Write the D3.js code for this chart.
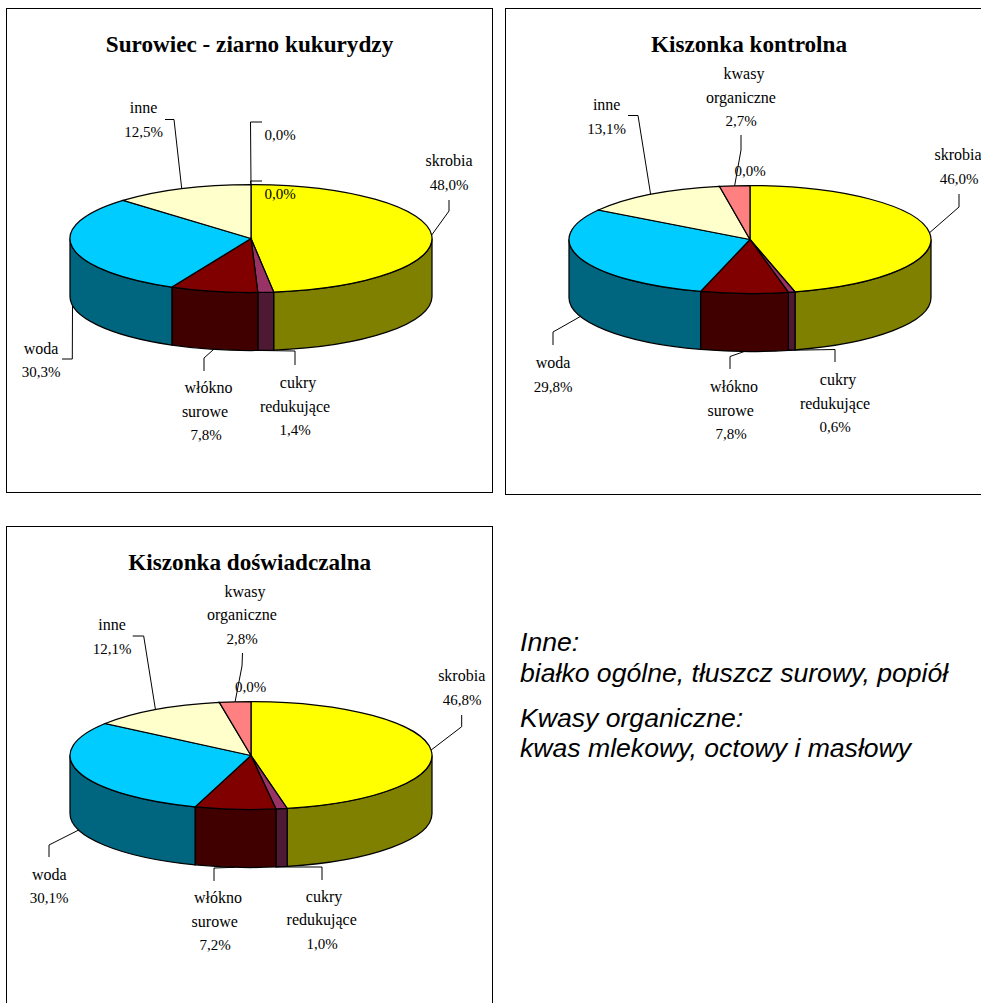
<!DOCTYPE html>
<html>
<head>
<meta charset="utf-8">
<script src="https://cdn.jsdelivr.net/npm/d3@7/dist/d3.min.js"></script>
<style>
  html, body { margin: 0; padding: 0; background: #fff; overflow: hidden; }
  svg { display: block; }
  .lbl { font-family: "Liberation Serif", serif; font-size: 16px; fill: #000; text-anchor: middle; }
  .pct { font-size: 15px; }
  .ttl { font-family: "Liberation Serif", serif; font-size: 23.2px; font-weight: bold; fill: #000; text-anchor: middle; }
  .note { font-family: "Liberation Sans", sans-serif; font-size: 26.6px; font-style: italic; fill: #000; }
</style>
</head>
<body>
<div id="chart"></div>
<script>
// Composition of the raw material and the two silages (percent of dry matter)
const categories = ["skrobia", "cukry redukujące", "włókno surowe", "woda", "inne", "kwasy organiczne"];
const surowiec = [48.0, 1.4, 7.8, 30.3, 12.5, 0.0];
const kontrolna = [46.0, 0.6, 7.8, 29.8, 13.1, 2.7];
const doswiadczalna = [46.8, 1.0, 7.2, 30.1, 12.1, 2.8];

const topColors = ["#ffff00", "#993366", "#800000", "#00ccff", "#ffffcc", "#ff8080"];
const sideColors = ["#808000", "#4d1933", "#400000", "#006680", "#808066", "#804040"];

const notes = [
  ["Inne:", 520, 651],
  ["białko ogólne, tłuszcz surowy, popiół", 520, 682],
  ["Kwasy organiczne:", 520, 727],
  ["kwas mlekowy, octowy i masłowy", 520, 757]
];

// Layout of one panel: frame, pie centre, label lines and leader elbows per category.
const panels = [
  {
    title: "Surowiec - ziarno kukurydzy", values: surowiec,
    frame: [6, 8, 486, 484], cx: 251, cy: 238.5, titleAt: [249.5, 52],
    labels: [
      { cat: 0, lines: [["skrobia", 449, 166], ["48,0%", 449, 190]], elbows: [[449, 211], [449, 200]] },
      { cat: 1, lines: [["cukry", 298, 388], ["redukujące", 295, 412], ["1,4%", 295, 435]], elbows: [[295, 351], [295, 365]], at: "start" },
      { cat: 2, lines: [["włókno", 208.5, 393], ["surowe", 205, 417], ["7,8%", 206, 440]], elbows: [[204, 358], [204, 371]] },
      { cat: 3, lines: [["woda", 41, 354], ["30,3%", 41, 377]], elbows: [[72.3, 359], [62, 359]] },
      { cat: 4, lines: [["inne", 143.5, 113], ["12,5%", 143.5, 137]], elbows: [[174, 119.5], [165, 119.5]] },
      { cat: 5, lines: [["0,0%", 280, 199]], elbows: [[250.5, 181], [262, 181]] },
      { cat: 5, lines: [["0,0%", 280, 140]], elbows: [[250.5, 122], [262, 122]] }
    ]
  },
  {
    title: "Kiszonka kontrolna", values: kontrolna,
    frame: [505, 8, 520, 486], cx: 750, cy: 239.5, titleAt: [749, 52],
    labels: [
      { cat: 0, lines: [["skrobia", 958, 160], ["46,0%", 959, 184]], elbows: [[959, 207], [959, 194]] },
      { cat: 1, lines: [["cukry", 838, 385], ["redukujące", 835, 409], ["0,6%", 835, 432]], elbows: [[835, 349.5], [835, 362]], at: "start" },
      { cat: 2, lines: [["włókno", 734, 392], ["surowe", 730.7, 416], ["7,8%", 731, 439]], elbows: [[730, 356.5], [730, 369]] },
      { cat: 3, lines: [["woda", 553, 368], ["29,8%", 553, 392]], elbows: [[553, 332], [553, 345]] },
      { cat: 4, lines: [["inne", 606.7, 110], ["13,1%", 606.7, 134]], elbows: [[638, 115.5], [628, 115.5]] },
      { cat: 5, lines: [["kwasy", 744, 79], ["organiczne", 741, 103], ["2,7%", 741, 126]], elbows: [[741, 150], [741, 135]] }
    ],
    zeroAt: [750, 176]
  },
  {
    title: "Kiszonka doświadczalna", values: doswiadczalna,
    frame: [6, 526, 486, 520], cx: 251, cy: 755.5, titleAt: [249.7, 570],
    labels: [
      { cat: 0, lines: [["skrobia", 461.7, 681], ["46,8%", 462, 705]], elbows: [[461.7, 726.7], [461.7, 715]] },
      { cat: 1, lines: [["cukry", 324, 902], ["redukujące", 321.7, 925], ["1,0%", 322, 949]], elbows: [[322, 867], [322, 880]], at: "start" },
      { cat: 2, lines: [["włókno", 218, 902.7], ["surowe", 214.7, 926.7], ["7,2%", 215, 950]], elbows: [[214, 868], [214, 881]] },
      { cat: 3, lines: [["woda", 49.3, 880], ["30,1%", 49, 903]], elbows: [[49, 845], [49, 857]] },
      { cat: 4, lines: [["inne", 112, 630], ["12,1%", 112, 654]], elbows: [[143.7, 636], [132.7, 636]] },
      { cat: 5, lines: [["kwasy", 245, 597], ["organiczne", 242, 620], ["2,8%", 242, 644]], elbows: [[242, 666], [242.5, 653]] }
    ],
    zeroAt: [250.7, 692]
  }
];

const RX = 181, RY = 54, DEPTH = 58, LINE = 1.25;
const FRONT_START = Math.PI / 2, FRONT_END = Math.PI * 3 / 2;

const svg = d3.select("#chart").append("svg").attr("width", 981).attr("height", 1003);
const pie = d3.pie().sort(null).startAngle(0).endAngle(2 * Math.PI);
const leaderLine = d3.line();

panels.forEach(panel => {
  const g = svg.append("g");
  const [fx, fy, fw, fh] = panel.frame;
  g.append("rect").attr("x", fx + 0.5).attr("y", fy + 0.5).attr("width", fw).attr("height", fh)
    .attr("fill", "#fff").attr("stroke", "#000").attr("stroke-width", 1);

  const sx = d3.scaleLinear().domain([-1, 1]).range([panel.cx - RX, panel.cx + RX]);
  const sy = d3.scaleLinear().domain([-1, 1]).range([panel.cy - RY, panel.cy + RY]);
  // Angles run clockwise from twelve o'clock
  const px = a => sx(Math.sin(a));
  const py = a => sy(-Math.cos(a));

  const arcs = pie(panel.values);

  // Visible rim: only the part of each slice facing the viewer
  const rim = g.append("g");
  arcs.forEach((d, i) => {
    const a0 = Math.max(d.startAngle, FRONT_START);
    const a1 = Math.min(d.endAngle, FRONT_END);
    if (a1 <= a0) return;
    const large = a1 - a0 > Math.PI ? 1 : 0;
    rim.append("path")
      .attr("d", `M${px(a0)},${py(a0)}` +
        `A${RX},${RY} 0 ${large} 1 ${px(a1)},${py(a1)}` +
        `L${px(a1)},${py(a1) + DEPTH}` +
        `A${RX},${RY} 0 ${large} 0 ${px(a0)},${py(a0) + DEPTH}Z`)
      .attr("fill", sideColors[i]).attr("stroke", "#000").attr("stroke-width", LINE);
  });

  // Top face
  const top = g.append("g");
  arcs.forEach((d, i) => {
    if (d.endAngle - d.startAngle <= 0) return;
    const large = d.endAngle - d.startAngle > Math.PI ? 1 : 0;
    top.append("path")
      .attr("d", `M${panel.cx},${panel.cy}L${px(d.startAngle)},${py(d.startAngle)}` +
        `A${RX},${RY} 0 ${large} 1 ${px(d.endAngle)},${py(d.endAngle)}Z`)
      .attr("fill", topColors[i]).attr("stroke", "#000").attr("stroke-width", LINE);
  });

  // Leader lines start on the pie edge of their slice
  const leaders = g.append("g");
  panel.labels.forEach(l => {
    const d = arcs[l.cat];
    const a = l.at === "start" ? d.endAngle : (d.startAngle + d.endAngle) / 2;
    const onFront = a > FRONT_START && a < FRONT_END;
    const anchor = [px(a), py(a) + (onFront ? DEPTH : 0)];
    leaders.append("path")
      .attr("d", leaderLine([anchor, ...l.elbows]))
      .attr("fill", "none").attr("stroke", "#000").attr("stroke-width", 1);
  });

  // Labels; percentages are set a little smaller than the names
  const text = g.append("g");
  const addLabel = (t, x, y) => text.append("text")
    .attr("class", t.endsWith("%") ? "lbl pct" : "lbl").attr("x", x).attr("y", y).text(t);
  panel.labels.forEach(l => l.lines.forEach(([t, x, y]) => addLabel(t, x, y)));
  if (panel.zeroAt) addLabel("0,0%", panel.zeroAt[0], panel.zeroAt[1]);
  text.append("text").attr("class", "ttl").attr("x", panel.titleAt[0]).attr("y", panel.titleAt[1]).text(panel.title);
});

svg.append("g").selectAll("text").data(notes).join("text")
  .attr("class", "note").attr("x", d => d[1]).attr("y", d => d[2]).text(d => d[0]);
</script>
</body>
</html>
